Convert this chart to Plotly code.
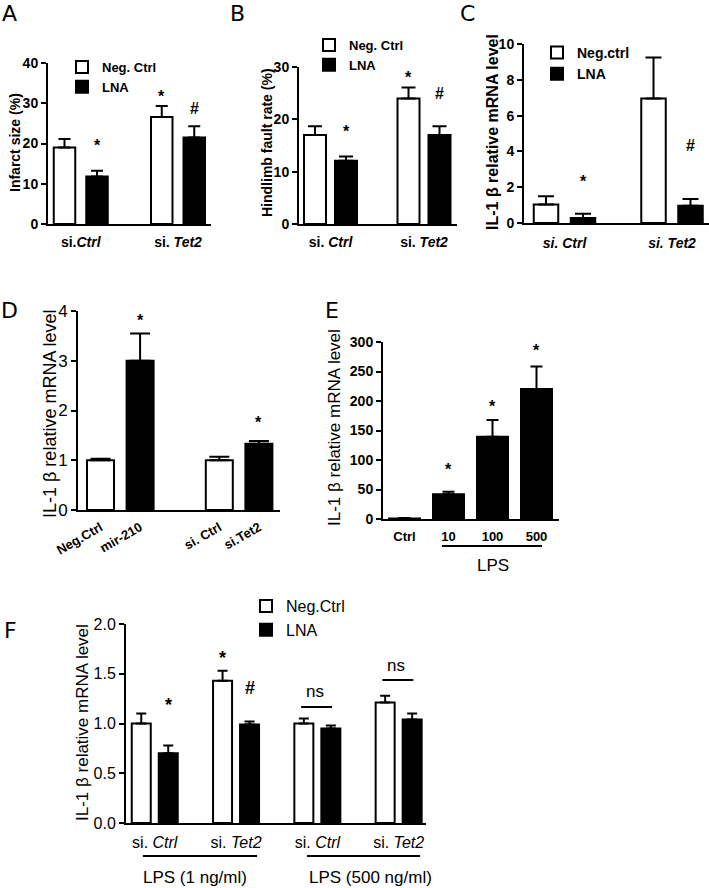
import plotly.graph_objects as go
import numpy as np

W, H = 709, 888
FONT = "Liberation Sans, Arial, sans-serif"
LETTER_FONT = "DejaVu Sans, Verdana, sans-serif"

# ---------------- data ----------------
# Panel A
a_labels = ["si.<i>Ctrl</i>", "si. <i>Tet2</i>"]
a_neg = [19.0, 26.6]
a_neg_err = [2.1, 2.7]
a_lna = [11.8, 21.5]
a_lna_err = [1.4, 2.8]
a_yticks = [0, 10, 20, 30, 40]

# Panel B
b_labels = ["si. <i>Ctrl</i>", "si. <i>Tet2</i>"]
b_neg = [17.0, 24.0]
b_neg_err = [1.7, 2.1]
b_lna = [12.1, 17.0]
b_lna_err = [0.8, 1.7]
b_yticks = [0, 10, 20, 30]

# Panel C
c_labels = ["<i>si. Ctrl</i>", "<i>si. Tet2</i>"]
c_neg = [1.04, 6.96]
c_neg_err = [0.45, 2.29]
c_lna = [0.28, 0.97]
c_lna_err = [0.24, 0.37]
c_yticks = [0, 2, 4, 6, 8, 10]

# Panel D
d_labels = ["Neg.Ctrl", "mir-210", "si. Ctrl", "si.Tet2"]
d_values = [1.0, 3.0, 1.0, 1.33]
d_err = [0.03, 0.55, 0.07, 0.055]
d_filled = [False, True, False, True]
d_yticks = [0, 1, 2, 3, 4]

# Panel E
e_labels = ["Ctrl", "10", "100", "500"]
e_values = [1.0, 42.0, 139.5, 220.5]
e_err = [0.5, 4.0, 28.5, 38.0]
e_yticks = [0, 50, 100, 150, 200, 250, 300]

# Panel F
f_labels = ["si. <i>Ctrl</i>", "si. <i>Tet2</i>", "si. <i>Ctrl</i>", "si. <i>Tet2</i>"]
f_neg = [1.00, 1.43, 1.00, 1.21]
f_neg_err = [0.10, 0.10, 0.05, 0.07]
f_lna = [0.70, 0.99, 0.95, 1.04]
f_lna_err = [0.08, 0.03, 0.03, 0.06]
f_yticks = [0.0, 0.5, 1.0, 1.5, 2.0]
f_ticktext = ["0.0", "0.5", "1.0", "1.5", "2.0"]

# significance marks: (category index, series, text, y value)
a_marks = [(0, "lna", "*", 20.1), (1, "neg", "*", 32.3), (1, "lna", "#", 29.3)]
b_marks = [(0, "lna", "*", 18.3), (1, "neg", "*", 28.5), (1, "lna", "#", 25.4)]
c_marks = [(0, "lna", "*", 2.5), (1, "neg", "*", 10.05), (1, "lna", "#", 4.5)]
d_marks = [(1, "*", 3.86), (3, "*", 1.81)]
e_marks = [(1, "*", 88), (2, "*", 196), (3, "*", 290)]
f_marks = [(0, "lna", "*", 1.216), (1, "neg", "*", 1.69), (1, "lna", "#", 1.39)]
f_ns = [(2, 1.35, 1.166), (3, 1.61, 1.437)]

fig = go.Figure()


def px_x(p):
    return p / W


def px_y(p):
    return 1 - p / H


def setup_axes(i, box, c0, pitch, ymax, yticks, ytext, xlabels, xfont, yfont,
               tickangle=0, xpos=None, standoff=2):
    x0, x1, ytop, ybot = box
    xa = "xaxis" if i == 1 else f"xaxis{i}"
    ya = "yaxis" if i == 1 else f"yaxis{i}"
    xid = "x" if i == 1 else f"x{i}"
    yid = "y" if i == 1 else f"y{i}"
    if xpos is None:
        xpos = list(range(len(xlabels)))
    fig.update_layout(**{
        xa: dict(domain=[px_x(x0), px_x(x1)], anchor=yid, automargin=False,
                 range=[(x0 - c0) / pitch, (x1 - c0) / pitch],
                 showline=True, linecolor="black", linewidth=2,
                 showgrid=False, zeroline=False, ticks="",
                 tickvals=xpos, ticktext=xlabels, tickfont=xfont,
                 tickangle=tickangle, ticklabelstandoff=standoff),
        ya: dict(domain=[px_y(ybot), px_y(ytop)], anchor=xid, automargin=False,
                 range=[0, ymax], showline=True, linecolor="black", linewidth=2,
                 showgrid=False, zeroline=False, ticks="outside", ticklen=5,
                 tickwidth=2, tickcolor="black", tickvals=yticks,
                 ticktext=ytext, tickfont=yfont),
    })
    return xid, yid


def grouped(i, xid, yid, neg, neg_err, lna, lna_err, off, width, capw,
            legend, names, showlegend=True):
    n = len(neg)
    pos = np.arange(n)
    fig.add_trace(go.Bar(x=pos, y=neg, xaxis=xid, yaxis=yid, name=names[0],
                         width=width, offset=-off - width / 2,
                         marker=dict(color="white", line=dict(color="black", width=2)),
                         error_y=dict(type="data", array=neg_err, arrayminus=[0] * n,
                                      symmetric=False, color="black", thickness=2, width=capw),
                         legend=legend, showlegend=showlegend, cliponaxis=False))
    fig.add_trace(go.Bar(x=pos, y=lna, xaxis=xid, yaxis=yid, name=names[1],
                         width=width, offset=off - width / 2,
                         marker=dict(color="black", line=dict(color="black", width=2)),
                         error_y=dict(type="data", array=lna_err, arrayminus=[0] * n,
                                      symmetric=False, color="black", thickness=2, width=capw),
                         legend=legend, showlegend=showlegend, cliponaxis=False))


def mark(xid, yid, x, y, text, size, weight="bold"):
    fig.add_annotation(x=x, y=y, xref=xid, yref=yid, text=text, showarrow=False,
                       xanchor="center", yanchor="middle", yshift=-size * 0.18,
                       font=dict(family=FONT, size=size, color="black", weight=weight))


def ytitle(xc, yc, text, size, weight="normal"):
    fig.add_annotation(x=px_x(xc), y=px_y(yc), xref="paper", yref="paper", text=text,
                       textangle=-90, showarrow=False, xanchor="center", yanchor="middle",
                       font=dict(family=FONT, size=size, color="black", weight=weight))


def letter(xc, yc, text):
    fig.add_annotation(x=px_x(xc), y=px_y(yc), xref="paper", yref="paper", text=text,
                       showarrow=False, xanchor="center", yanchor="middle",
                       font=dict(family=LETTER_FONT, size=22, color="black"))


bold13 = dict(family=FONT, size=13, color="black", weight="bold")
bold14 = dict(family=FONT, size=14, color="black", weight="bold")
reg16 = dict(family=FONT, size=16, color="black")

# ---------------- Panel A ----------------
xa_, ya_ = setup_axes(1, (48, 211, 63, 224), 80.75, 97.25, 40, a_yticks,
                      [str(v) for v in a_yticks], a_labels, bold14, bold14, standoff=4)
offA, wA = 16.25 / 97.25, 21.5 / 97.25
grouped(1, xa_, ya_, a_neg, a_neg_err, a_lna, a_lna_err, offA, wA, 6, "legend",
        ["Neg. Ctrl", "LNA"])
for ci, s, t, y in a_marks:
    mark(xa_, ya_, ci + (offA if s == "lna" else -offA), y, t, 16)
ytitle(15, 143, "Infarct size (%)", 14, "bold")
letter(9, 13, "A")

# ---------------- Panel B ----------------
xb_, yb_ = setup_axes(2, (299, 457, 67, 224), 330.5, 93.5, 30, b_yticks,
                      [str(v) for v in b_yticks], b_labels, bold14, bold14, standoff=4)
offB, wB = 15.5 / 93.5, 22 / 93.5
grouped(2, xb_, yb_, b_neg, b_neg_err, b_lna, b_lna_err, offB, wB, 7, "legend2",
        ["Neg. Ctrl", "LNA"])
for ci, s, t, y in b_marks:
    mark(xb_, yb_, ci + (offB if s == "lna" else -offB), y, t, 16)
ytitle(267, 143, "Hindlimb fault rate (%)", 14, "bold")
letter(238, 13, "B")

# ---------------- Panel C ----------------
xc_, yc_ = setup_axes(3, (524, 709, 44, 223), 564.5, 107.5, 10, c_yticks,
                      [str(v) for v in c_yticks], c_labels, bold14, bold14, standoff=6)
offC, wC = 18.5 / 107.5, 24.5 / 107.5
grouped(3, xc_, yc_, c_neg, c_neg_err, c_lna, c_lna_err, offC, wC, 8, "legend3",
        ["Neg.ctrl", "LNA"])
for ci, s, t, y in c_marks:
    mark(xc_, yc_, ci + (offC if s == "lna" else -offC), y, t, 16)
ytitle(492, 132, "IL-1 β relative mRNA level", 16, "bold")
letter(467, 14, "C")

# ---------------- Panel D ----------------
d_pos = [i + (1 if i >= 2 else 0) for i in range(len(d_labels))]
xd_, yd_ = setup_axes(4, (78, 280, 311, 510), 100.5, 39.6, 4, d_yticks,
                      [str(v) for v in d_yticks], d_labels, bold13,
                      dict(family=FONT, size=17, color="black"),
                      tickangle=-30, xpos=d_pos, standoff=3)
fig.add_trace(go.Bar(x=d_pos, y=d_values, xaxis=xd_, yaxis=yd_, width=27 / 39.6,
                     marker=dict(color=["black" if f else "white" for f in d_filled],
                                 line=dict(color="black", width=2)),
                     error_y=dict(type="data", array=d_err, arrayminus=[0] * len(d_err),
                                  symmetric=False, color="black", thickness=2, width=10),
                     showlegend=False, cliponaxis=False))
for ci, t, y in d_marks:
    mark(xd_, yd_, d_pos[ci], y, t, 16)
ytitle(50, 414, "IL-1 β relative mRNA level", 18)
letter(9, 311, "D")

# ---------------- Panel E ----------------
xe_, ye_ = setup_axes(5, (383, 559, 342, 519), 404.5, 44, 300, e_yticks,
                      [str(v) for v in e_yticks], e_labels, bold13, bold14, standoff=4)
fig.add_trace(go.Bar(x=list(range(len(e_labels))), y=e_values, xaxis=xe_, yaxis=ye_,
                     width=31 / 44,
                     marker=dict(color="black", line=dict(color="black", width=2)),
                     error_y=dict(type="data", array=e_err, arrayminus=[0] * len(e_err),
                                  symmetric=False, color="black", thickness=2, width=6),
                     showlegend=False, cliponaxis=False))
for ci, t, y in e_marks:
    mark(xe_, ye_, ci, y, t, 16)
fig.add_shape(type="line", xref=xe_, yref="paper", x0=0.85, x1=3.125,
              y0=px_y(546), y1=px_y(546), line=dict(color="black", width=2))
fig.add_annotation(x=2, y=px_y(565), xref=xe_, yref="paper", text="LPS", showarrow=False,
                   xanchor="center", yanchor="middle",
                   font=dict(family=FONT, size=17, color="black"))
ytitle(335, 428, "IL-1 β relative mRNA level", 17)
letter(332, 311, "E")

# ---------------- Panel F ----------------
xf_, yf_ = setup_axes(6, (126, 426, 624, 823), 154.75, 81.3, 2.0, f_yticks,
                      f_ticktext, f_labels, reg16, reg16, standoff=4)
offF, wF = 13.5 / 81.3, 19 / 81.3
grouped(6, xf_, yf_, f_neg, f_neg_err, f_lna, f_lna_err, offF, wF, 5, "legend4",
        ["Neg.Ctrl", "LNA"])
for ci, s, t, y in f_marks:
    mark(xf_, yf_, ci + (offF if s == "lna" else -offF), y, t, 18, "bold")
for ci, yt, yl in f_ns:
    mark(xf_, yf_, ci - 0.03, yt, "ns", 17, "normal")
    fig.add_shape(type="line", xref=xf_, yref=yf_, x0=ci - 0.2, x1=ci + 0.18,
                  y0=yl, y1=yl, line=dict(color="black", width=2))
fig.add_shape(type="line", xref=xf_, yref="paper", x0=-0.145, x1=1.258,
              y0=px_y(856), y1=px_y(856), line=dict(color="black", width=2))
fig.add_shape(type="line", xref=xf_, yref="paper", x0=1.872, x1=3.263,
              y0=px_y(856), y1=px_y(856), line=dict(color="black", width=2))
fig.add_annotation(x=0.5, y=px_y(877), xref=xf_, yref="paper", text="LPS (1 ng/ml)",
                   showarrow=False, xanchor="center", yanchor="middle",
                   font=dict(family=FONT, size=17, color="black"))
fig.add_annotation(x=2.65, y=px_y(877), xref=xf_, yref="paper", text="LPS (500 ng/ml)",
                   showarrow=False, xanchor="center", yanchor="middle",
                   font=dict(family=FONT, size=17, color="black"))
ytitle(82, 723, "IL-1 β relative mRNA level", 17)
letter(10, 630, "F")

# ---------------- legends ----------------
def legend_cfg(xl, yt, size, weight):
    return dict(x=px_x(xl), y=px_y(yt), xanchor="left", yanchor="top",
                bgcolor="rgba(0,0,0,0)", borderwidth=0, tracegroupgap=0,
                font=dict(family=FONT, size=size, color="black", weight=weight))


fig.update_layout(
    width=W, height=H, margin=dict(l=0, r=0, t=0, b=0, autoexpand=False),
    paper_bgcolor="white", plot_bgcolor="white",
    font=dict(family=FONT, color="black"),
    showlegend=True, barmode="overlay",
    legend=legend_cfg(62, 52, 13, "bold"),
    legend2=legend_cfg(309, 30, 13, "bold"),
    legend3=legend_cfg(537, 37, 14, "bold"),
    legend4=legend_cfg(246, 589, 16, "normal"),
)

fig.write_html(
    "out.html",
    config={"displayModeBar": False},
    post_script="document.body.style.margin='0';document.body.style.overflow='hidden';",
)
